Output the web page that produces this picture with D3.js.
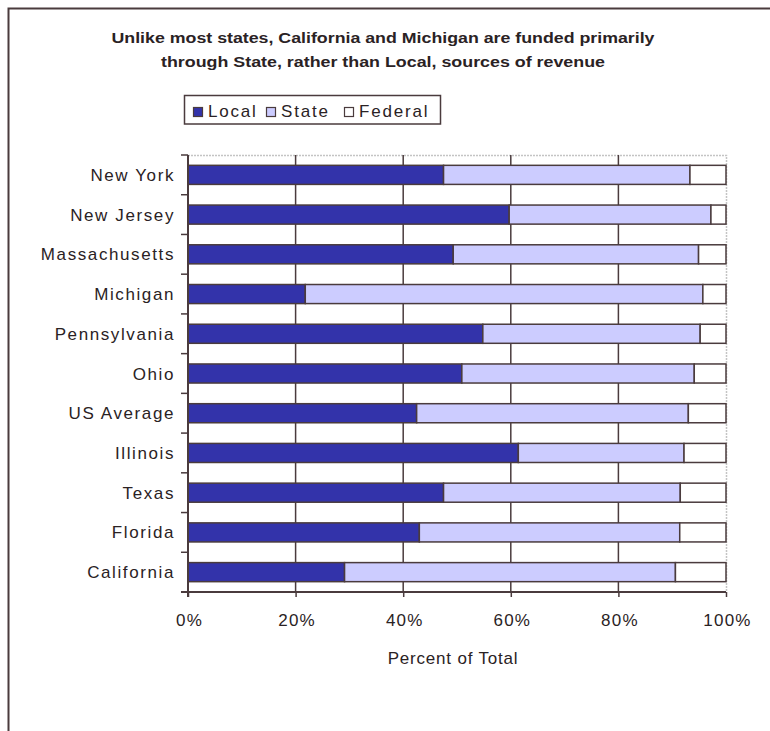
<!DOCTYPE html>
<html>
<head>
<meta charset="utf-8">
<script src="https://cdn.jsdelivr.net/npm/d3@7"></script>
<style>
  html, body { margin: 0; padding: 0; background: #fff; }
  svg { display: block; }
  text { font-family: "Liberation Sans", Arial, sans-serif; fill: #2a2224; }
</style>
</head>
<body>
<svg id="chart" width="770" height="731"></svg>
<script>
// Revenue shares (percent of total) by source
const states = ["New York", "New Jersey", "Massachusetts", "Michigan", "Pennsylvania",
                "Ohio", "US Average", "Illinois", "Texas", "Florida", "California"];
const local   = [47.5, 59.7, 49.3, 21.8, 54.8, 50.9, 42.5, 61.4, 47.5, 43.0, 29.1];
const state   = [45.8, 37.5, 45.6, 73.9, 40.4, 43.2, 50.5, 30.8, 44.0, 48.4, 61.5];
const federal = [ 6.7,  2.8,  5.1,  4.3,  4.8,  5.9,  7.0,  7.8,  8.5,  8.6,  9.4];
const sources = ["Local", "State", "Federal"];
const xTicks = [0, 20, 40, 60, 80, 100];
const titleLines = [
  "Unlike most states, California and Michigan are funded primarily",
  "through State, rather than Local, sources of revenue"
];

const ink = "#4a3b3d";
const colors = { Local: "#3333aa", State: "#ccccff", Federal: "#ffffff" };

const rows = states.map((s, i) => ({ name: s, Local: local[i], State: state[i], Federal: federal[i] }));

const svg = d3.select("#chart");

// outer frame (top and left edges)
svg.append("path")
  .attr("d", "M8.5,731 V8.5 H770")
  .attr("fill", "none").attr("stroke", ink).attr("stroke-width", 2);

// title
svg.append("g").selectAll("text").data(titleLines).join("text")
  .attr("x", 383).attr("y", (d, i) => 43 + i * 24)
  .attr("text-anchor", "middle")
  .attr("font-size", 14.5).attr("font-weight", "bold")
  .attr("textLength", (d, i) => i === 0 ? 543 : 444)
  .attr("lengthAdjust", "spacingAndGlyphs")
  .text(d => d);

// plot geometry
const plotLeft = 188, plotRight = 726, plotTop = 155, plotBottom = 592;

const x = d3.scaleLinear().domain([0, 100]).range([plotLeft, plotRight]);
const y = d3.scaleBand().domain(states).range([plotTop, plotBottom])
  .paddingInner(0.52).paddingOuter(0.26);

// plot area border (light dotted top/right)
svg.append("path")
  .attr("d", `M${plotLeft},${plotTop + 0.5} H${plotRight + 0.5} V${plotBottom}`)
  .attr("fill", "none").attr("stroke", "#c4c4c4").attr("stroke-width", 1.5)
  .attr("stroke-dasharray", "2,1");

// vertical gridlines
svg.append("g").selectAll("line").data(xTicks.slice(1, -1)).join("line")
  .attr("x1", d => x(d)).attr("x2", d => x(d))
  .attr("y1", plotTop).attr("y2", plotBottom)
  .attr("stroke", ink).attr("stroke-width", 1.5);

// stacked bars
const stack = d3.stack().keys(sources);
const series = stack(rows);

svg.append("g").selectAll("g").data(series).join("g")
  .attr("fill", d => colors[d.key])
  .selectAll("rect").data(d => d).join("rect")
    .attr("x", d => x(d[0]))
    .attr("y", d => y(d.data.name))
    .attr("width", d => x(d[1]) - x(d[0]))
    .attr("height", y.bandwidth())
    .attr("stroke", ink).attr("stroke-width", 1.5);

// category axis: line plus ticks at band boundaries
const bounds = d3.range(states.length + 1)
  .map(i => plotTop + i * (plotBottom - plotTop) / states.length);
svg.append("line")
  .attr("x1", plotLeft).attr("x2", plotLeft).attr("y1", plotTop).attr("y2", plotBottom + 5)
  .attr("stroke", ink).attr("stroke-width", 2);
svg.append("g").selectAll("line").data(bounds).join("line")
  .attr("x1", plotLeft - 7).attr("x2", plotLeft)
  .attr("y1", d => d).attr("y2", d => d)
  .attr("stroke", ink).attr("stroke-width", 1.5);

svg.append("g").selectAll("text").data(states).join("text")
  .attr("x", 175)
  .attr("y", d => y(d) + y.bandwidth() / 2 + 6)
  .attr("text-anchor", "end")
  .attr("font-size", 17).attr("letter-spacing", 1.6)
  .text(d => d);

// value axis
const xAxis = d3.axisBottom(x).tickValues(xTicks).tickSize(5).tickSizeOuter(0)
  .tickFormat(d => d + "%");
const ax = svg.append("g").attr("transform", `translate(0,${plotBottom})`).call(xAxis);
ax.select(".domain").attr("stroke", ink).attr("stroke-width", 2)
  .attr("d", `M${plotLeft - 7},0H${plotRight}`);
ax.selectAll(".tick line").attr("stroke", ink).attr("stroke-width", 1.5);
ax.selectAll(".tick text")
  .attr("x", 1).attr("y", 34).attr("dy", 0)
  .attr("font-size", 17).attr("letter-spacing", 1.2)
  .attr("font-family", "Liberation Sans, Arial, sans-serif")
  .attr("fill", "#2a2224");

svg.append("text")
  .attr("x", 453).attr("y", 664)
  .attr("text-anchor", "middle")
  .attr("font-size", 17).attr("letter-spacing", 0.8)
  .text("Percent of Total");

// legend
const legend = svg.append("g");
legend.append("rect")
  .attr("x", 184.5).attr("y", 95.5).attr("width", 256).attr("height", 28.5)
  .attr("fill", "#fff").attr("stroke", ink).attr("stroke-width", 1.5);
const legendX = { Local: 193, State: 266, Federal: 344 };
const item = legend.selectAll("g.item").data(sources).join("g").attr("class", "item")
  .attr("transform", d => `translate(${legendX[d]},0)`);
item.append("rect")
  .attr("x", 0.5).attr("y", 107.5).attr("width", 9).attr("height", 9)
  .attr("fill", d => colors[d]).attr("stroke", ink).attr("stroke-width", 1.2);
item.append("text")
  .attr("x", 15).attr("y", 117)
  .attr("font-size", 17).attr("letter-spacing", 1.8)
  .text(d => d);
</script>
</body>
</html>
